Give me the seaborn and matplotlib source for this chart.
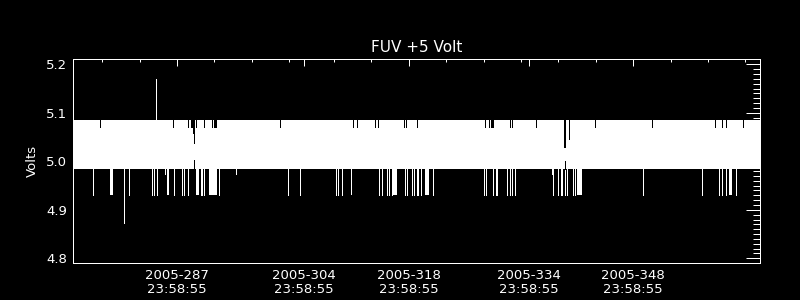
import matplotlib
matplotlib.use("Agg")
import matplotlib.pyplot as plt
import numpy as np
import pandas as pd
import seaborn as sns

# ---------------- data ----------------
title = "FUV +5 Volt"
ylabel = "Volts"

# time axis in day-of-year 2005
x_start, x_end = 273.05, 365.0
band_low, band_high = 4.985, 5.085          # dense quantised readings fill this band

# downward spikes (single samples)
down_days = [275.77, 279.95, 280.58, 283.70, 283.89, 284.33, 285.44, 286.60,
             287.71, 287.90, 288.48, 290.25, 290.39, 290.62, 292.66, 294.94,
             301.79, 303.50, 308.27, 308.50, 309.08, 314.07, 314.36, 315.06,
             315.36, 315.73, 317.51, 317.81, 318.40, 318.75, 319.07, 319.28,
             319.65, 321.25, 328.03, 328.38, 329.28, 329.59, 329.85, 331.19,
             331.51, 331.82, 332.18, 337.08, 337.34, 337.97, 338.33, 338.51,
             338.91, 339.18, 339.98, 340.21, 349.25, 357.14, 359.42, 359.82,
             360.45, 361.79]
down_vals = [4.930, 4.873, 4.930, 4.930, 4.930, 4.930, 4.973, 4.930,
             4.930, 4.930, 4.930, 4.930, 4.930, 4.930, 4.930, 4.973,
             4.930, 4.930, 4.930, 4.930, 4.930, 4.930, 4.930, 4.930,
             4.930, 4.930, 4.930, 4.930, 4.930, 4.930, 4.930, 4.930,
             4.930, 4.930, 4.930, 4.930, 4.930, 4.930, 4.930, 4.930,
             4.930, 4.930, 4.930, 4.973, 4.930, 4.930, 4.930, 4.930,
             4.930, 4.930, 4.930, 4.930, 4.930, 4.930, 4.930, 4.930,
             4.930, 4.930]

# runs of low readings
block_start = [278.04, 285.67, 289.59, 291.28, 310.28, 315.94, 320.22, 340.52, 360.81]
block_end = [278.40, 285.97, 289.95, 292.35, 310.46, 316.39, 320.68, 341.12, 361.21]
block_vals = [4.930, 4.930, 4.930, 4.930, 4.930, 4.930, 4.930, 4.930, 4.930]

# upward spike
up_days = [284.23]
up_vals = [5.170]

# dips below the upper level of the band
notch_days = [276.74, 286.51, 288.52, 288.88, 289.00, 289.12, 289.24, 289.32,
              289.59, 290.58, 291.73, 291.99, 292.10, 292.18, 300.82, 310.59,
              311.12, 313.53, 313.89, 317.33, 317.68, 319.15, 328.17, 328.70,
              329.05, 329.15, 329.24, 331.59, 331.86, 334.94, 338.74, 338.87,
              339.35, 342.83, 350.46, 358.88, 359.87, 360.35, 362.68]
notch_vals = [5.071, 5.071, 5.071, 5.071, 5.071, 5.058, 5.058, 5.038,
              5.071, 5.071, 5.071, 5.071, 5.071, 5.071, 5.071, 5.071,
              5.071, 5.071, 5.071, 5.071, 5.071, 5.071, 5.071, 5.071,
              5.071, 5.071, 5.071, 5.071, 5.071, 5.071, 5.030, 5.030,
              5.045, 5.071, 5.071, 5.071, 5.071, 5.071, 5.071]

# rises above the lower level of the band
rise_days = [289.32, 338.82]
rise_vals = [5.002, 5.001]

major_days = [287, 304, 318, 334, 348]
major_labels = ["2005-287\n23:58:55", "2005-304\n23:58:55", "2005-318\n23:58:55",
                "2005-334\n23:58:55", "2005-348\n23:58:55"]
minor_days = [277, 282, 292, 297, 302, 308, 313, 323, 328, 333, 338, 343, 353, 358, 363]
y_major = [4.8, 4.9, 5.0, 5.1, 5.2]
y_minor_step = 0.01
ylim = (4.7897, 5.2103)

# ---------------- style ----------------
sns.set_theme(style="dark", rc={
    "figure.facecolor": "black", "axes.facecolor": "black",
    "savefig.facecolor": "black", "axes.edgecolor": "white",
    "text.color": "white", "axes.labelcolor": "white",
    "xtick.color": "white", "ytick.color": "white",
    "axes.grid": False,
})
plt.rcParams["font.family"] = ["DejaVu Sans"]

fig = plt.figure(figsize=(8, 3), dpi=100)
ax = fig.add_axes([0.0909, 0.1223, 0.8595, 0.68])

# band of dense readings
ax.fill_between([x_start, x_end], band_low, band_high, color="white",
                linewidth=0, antialiased=False, zorder=2)

# vertical segments in long form
def segs(days, base, vals, kind):
    rows = []
    for i, (d, v) in enumerate(zip(days, vals)):
        rows.append({"day": d, "volt": base, "seg": f"{kind}{i}"})
        rows.append({"day": d, "volt": v, "seg": f"{kind}{i}"})
    return pd.DataFrame(rows)

white = pd.concat([segs(down_days, band_low, down_vals, "d"),
                   segs(up_days, band_high, up_vals, "u")])
black_top = segs(notch_days, band_high, notch_vals, "n")
black_bot = segs(rise_days, band_low, rise_vals, "r")

sns.lineplot(data=white, x="day", y="volt", units="seg", estimator=None,
             color="white", linewidth=0.72, antialiased=False, ax=ax,
             legend=False, zorder=3)
for s, e, v in zip(block_start, block_end, block_vals):
    ax.fill_between([s, e], v, band_low, color="white", linewidth=0,
                    antialiased=False, zorder=3)
sns.lineplot(data=black_top, x="day", y="volt", units="seg", estimator=None,
             color="black", linewidth=0.72, antialiased=False, ax=ax,
             legend=False, zorder=4)
sns.lineplot(data=black_bot, x="day", y="volt", units="seg", estimator=None,
             color="black", linewidth=0.72, antialiased=False, ax=ax,
             legend=False, zorder=4)

ax.set_xlim(x_start, x_end)
ax.set_ylim(*ylim)
ax.set_xticks(major_days)
ax.set_xticklabels(major_labels, fontsize=9.5, linespacing=1.1)
ax.set_xticks(minor_days, minor=True)
ax.set_yticks(y_major)
ax.set_yticklabels([f"{v:.1f}" for v in y_major], fontsize=9.5)
ax.set_yticks(np.arange(4.8, 5.2001, y_minor_step), minor=True)
ax.tick_params(axis="both", which="both", direction="in", top=True, right=True,
               width=0.72, colors="white")
ax.tick_params(axis="y", which="major", length=10, pad=4)
ax.tick_params(axis="y", which="minor", length=5)
ax.tick_params(axis="x", which="major", length=5, pad=4)
ax.tick_params(axis="x", which="minor", length=2.5)
for sp in ax.spines.values():
    sp.set_color("white")
    sp.set_linewidth(0.72)
    sp.set_visible(True)
ax.set_xlabel("")
ax.set_ylabel(ylabel, fontsize=9.5, labelpad=5)
ax.set_title(title, fontsize=11, color="white", pad=5)

fig.savefig("out.png", dpi=100, facecolor="black")
